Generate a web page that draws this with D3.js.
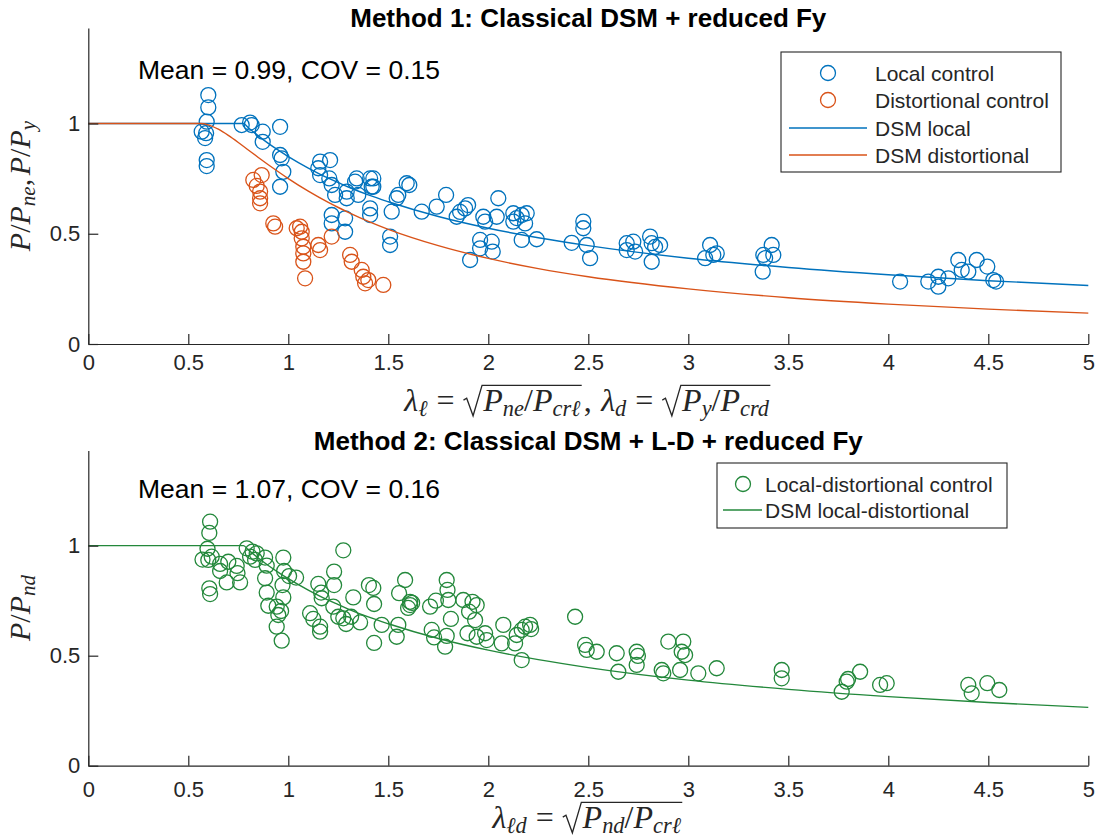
<!DOCTYPE html>
<html><head><meta charset="utf-8">
<script src="https://cdn.jsdelivr.net/npm/d3@7"></script>
<style>body{margin:0;background:#fff}</style>
</head><body>
<svg id="c" width="1097" height="839" xmlns="http://www.w3.org/2000/svg"></svg>
<script>
// ---------------- data ----------------
const xTickValues = [0,0.5,1,1.5,2,2.5,3,3.5,4,4.5,5];
const xTickLabels = ["0","0.5","1","1.5","2","2.5","3","3.5","4","4.5","5"];
const yTickValues = [0,0.5,1];
const yTickLabels = ["0","0.5","1"];

const titles = ["Method 1: Classical DSM + reduced Fy", "Method 2: Classical DSM + L-D + reduced Fy"];
const statTexts = ["Mean = 0.99, COV = 0.15", "Mean = 1.07, COV = 0.16"];
const legend1Labels = ["Local control","Distortional control","DSM local","DSM distortional"];
const legend2Labels = ["Local-distortional control","DSM local-distortional"];

// Local control tests (top panel, blue circles)
const localLambda = [0.600,0.600,0.592,0.567,0.589,0.584,0.592,0.592,0.767,0.809,
 0.817,0.872,0.872,0.959,0.959,0.967,0.975,0.959,1.159,1.209,
 1.150,1.159,1.205,1.217,1.234,1.292,1.292,1.342,1.334,1.409,
 1.417,1.350,1.217,1.217,1.284,1.284,1.409,1.409,1.425,1.425,
 1.509,1.509,1.517,1.550,1.542,1.592,1.605,1.667,1.742,1.789,
 1.842,1.859,1.884,1.899,1.909,1.959,1.959,1.975,1.984,2.017,
 2.022,2.050,2.042,2.125,2.125,2.142,2.167,2.192,2.184,2.167,
 2.242,2.417,2.475,2.475,2.492,2.509,2.692,2.692,2.725,2.734,
 2.809,2.817,2.834,2.859,2.817,3.109,3.084,3.125,3.142,3.375,
 3.417,3.425,3.384,3.372,4.059,4.200,4.250,4.250,4.300,4.350,
 4.367,4.400,4.442,4.495,4.525,4.539];
const localRatio = [1.129,1.073,1.008,0.963,0.956,0.934,0.834,0.807,0.993,1.004,
 0.993,0.963,0.917,0.985,0.857,0.842,0.781,0.713,0.827,0.834,
 0.797,0.766,0.751,0.721,0.676,0.691,0.661,0.751,0.736,0.751,
 0.713,0.676,0.585,0.547,0.570,0.509,0.615,0.585,0.751,0.713,
 0.487,0.449,0.600,0.676,0.661,0.729,0.721,0.600,0.623,0.676,
 0.577,0.599,0.615,0.630,0.381,0.472,0.434,0.577,0.555,0.464,
 0.419,0.661,0.577,0.593,0.555,0.571,0.585,0.593,0.547,0.472,
 0.475,0.459,0.555,0.525,0.449,0.389,0.457,0.426,0.464,0.419,
 0.487,0.457,0.440,0.449,0.373,0.449,0.389,0.404,0.411,0.404,
 0.449,0.404,0.389,0.328,0.283,0.283,0.305,0.260,0.298,0.381,
 0.336,0.328,0.381,0.351,0.290,0.283];

// Distortional control tests (top panel, orange circles)
const distLambda = [0.825,0.867,0.842,0.859,0.859,0.859,0.925,0.934,1.042,1.059,
 1.067,1.067,1.075,1.075,1.075,1.084,1.150,1.159,1.217,1.309,
 1.317,1.367,1.375,1.384,1.400,1.475];
const distRatio = [0.744,0.766,0.717,0.691,0.661,0.638,0.547,0.532,0.525,0.532,
 0.509,0.479,0.441,0.411,0.373,0.298,0.449,0.426,0.487,0.404,
 0.373,0.336,0.305,0.275,0.290,0.268];

// Local-distortional control tests (bottom panel, green circles)
const ldLambda = [0.609,0.605,0.596,0.571,0.600,0.617,0.605,0.609,0.659,0.659,
 0.692,0.700,0.742,0.746,0.759,0.792,0.821,0.809,0.842,0.834,
 0.884,0.892,0.884,0.892,0.900,0.942,0.950,0.942,0.967,0.975,
 0.979,1.004,1.039,0.971,0.975,0.964,1.275,1.229,1.229,1.150,
 1.164,1.167,1.109,1.125,1.159,1.159,1.225,1.250,1.275,1.289,
 1.314,1.325,1.359,1.403,1.425,1.429,1.429,1.467,1.550,1.542,
 1.584,1.554,1.609,1.609,1.619,1.599,1.709,1.738,1.792,1.796,
 1.800,1.813,1.717,1.729,1.792,1.784,1.875,1.921,1.942,1.904,
 1.934,1.896,1.942,1.984,1.992,2.075,2.067,2.134,2.142,2.167,
 2.184,2.209,2.214,2.167,2.434,2.484,2.492,2.542,2.642,2.650,
 2.742,2.742,2.748,2.900,2.975,2.967,2.984,2.867,2.875,2.959,
 3.050,3.142,3.467,3.467,3.767,3.792,3.799,3.859,3.959,3.992,
 4.400,4.417,4.495,4.555];
const ldRatio = [1.109,1.058,0.986,0.937,0.935,0.950,0.806,0.780,0.917,0.885,
 0.833,0.927,0.908,0.875,0.833,0.988,0.973,0.950,0.965,0.935,
 0.946,0.909,0.852,0.787,0.727,0.723,0.685,0.632,0.568,0.946,
 0.885,0.862,0.855,0.821,0.765,0.703,0.979,0.882,0.821,0.826,
 0.787,0.761,0.693,0.667,0.632,0.609,0.723,0.677,0.670,0.644,
 0.677,0.765,0.651,0.821,0.808,0.735,0.558,0.640,0.640,0.586,
 0.844,0.784,0.745,0.730,0.740,0.717,0.723,0.750,0.844,0.799,
 0.753,0.667,0.617,0.583,0.590,0.541,0.753,0.745,0.730,0.700,
 0.662,0.602,0.586,0.602,0.571,0.640,0.556,0.556,0.594,0.617,
 0.632,0.640,0.621,0.480,0.677,0.549,0.526,0.518,0.511,0.427,
 0.518,0.458,0.499,0.564,0.564,0.518,0.503,0.435,0.420,0.435,
 0.420,0.443,0.435,0.397,0.336,0.382,0.394,0.427,0.367,0.375,
 0.367,0.329,0.375,0.344];

// DSM design curves
const curveLocalLambda = [0,0.776,0.8,0.85,0.9,0.95,1.0,1.1,1.2,1.25,1.3,1.4,1.5,1.75,2.0,2.25,2.5,3.0,3.5,4.0,4.5,5.0];
const curveLocalRatio  = [1,1.000,0.981,0.944,0.910,0.879,0.850,0.798,0.752,0.732,0.712,0.676,0.645,0.578,0.525,0.482,0.446,0.389,0.347,0.314,0.287,0.265];
const curveDistLambda  = [0,0.561,0.6,0.65,0.7,0.75,0.8,0.85,0.9,0.95,1.0,1.1,1.2,1.25,1.3,1.4,1.5,1.75,2.0,2.25,2.5,3.0,3.5,4.0,4.5,5.0];
const curveDistRatio   = [1,1.000,0.994,0.974,0.946,0.914,0.880,0.846,0.813,0.781,0.750,0.693,0.642,0.619,0.597,0.556,0.520,0.446,0.388,0.342,0.305,0.250,0.210,0.181,0.158,0.140];

// ---------------- drawing ----------------
const BLUE = "#0072BD", ORANGE = "#D95319", GREEN = "#23883b", AX = "#262626";
const SANS = "'Liberation Sans', Arial, Helvetica, sans-serif";
const SERIF = "'Liberation Serif','DejaVu Serif',serif";
const svg = d3.select("#c");

const x = d3.scaleLinear().domain([0,5]).range([88.3,1088.3]);
const yTop = d3.scaleLinear().domain([0,1.433]).range([344,28]);
const yBot = d3.scaleLinear().domain([0,1.433]).range([765.7,450.4]);

function drawAxes(y, padX) {
  const gx = svg.append("g").attr("transform", `translate(0,${y(0)})`)
    .call(d3.axisBottom(x).tickValues(xTickValues).tickFormat((d,i)=>xTickLabels[i])
      .tickSizeInner(-10).tickSizeOuter(0).tickPadding(padX));
  const gy = svg.append("g").attr("transform", `translate(${x(0)},0)`)
    .call(d3.axisLeft(y).tickValues(yTickValues).tickFormat((d,i)=>yTickLabels[i])
      .tickSizeInner(-10).tickSizeOuter(0).tickPadding(8));
  [gx,gy].forEach(g=>{
    g.attr("font-family", SANS).attr("font-size", 22);
    g.select(".domain").attr("stroke", AX).attr("stroke-width", 1.2);
    g.selectAll(".tick line").attr("stroke", AX).attr("stroke-width", 1.2);
    g.selectAll(".tick text").attr("fill", AX);
  });
}

function drawCircles(lam, rat, y, color) {
  svg.append("g").selectAll("circle").data(lam.map((d,i)=>[d,rat[i]])).join("circle")
    .attr("cx", d=>x(d[0])).attr("cy", d=>y(d[1])).attr("r", 7.5)
    .attr("fill","none").attr("stroke", color).attr("stroke-width", 1.3);
}
function drawCurve(lam, rat, y, color) {
  const line = d3.line().x(d=>x(d[0])).y(d=>y(d[1])).curve(d3.curveMonotoneX);
  svg.append("path").attr("d", line(lam.map((d,i)=>[d,rat[i]])))
    .attr("fill","none").attr("stroke", color).attr("stroke-width", 1.4);
}

// math label layout helper
function mathText(g, tokens, fs, color) {
  let cx = 0;
  function run(toks) {
    toks.forEach(t=>{
      if (t.sqrt) {
        const x0 = cx, rw = 0.62*fs;
        cx += rw;
        run(t.sqrt);
        const xe = cx + 0.04*fs;
        g.append("path")
          .attr("d", `M${x0},${-0.34*fs} L${x0+0.1*fs},${-0.4*fs} L${x0+0.3*fs},${0.15*fs} L${x0+rw-0.04*fs},${-0.8*fs} L${xe},${-0.8*fs}`)
          .attr("fill","none").attr("stroke", color).attr("stroke-width", 1.3);
        cx = xe + 0.06*fs;
      } else {
        if (t.gl) cx += t.gl*fs;
        const el = g.append("text").attr("x", cx).attr("y", t.sub ? 0.17*fs : 0)
          .attr("font-size", t.sub ? 0.7*fs : fs)
          .attr("font-style", t.it ? "italic" : "normal")
          .attr("font-family", SERIF).attr("fill", color).text(t.s);
        cx += el.node().getComputedTextLength();
        if (t.gr) cx += t.gr*fs;
      }
    });
  }
  run(tokens);
  return cx;
}
function placeMath(tokens, tx, ty, rotate, fs) {
  const g = svg.append("g").attr("transform", `translate(${tx},${ty})` + (rotate ? " rotate(-90)" : ""));
  const inner = g.append("g");
  const w = mathText(inner, tokens, fs, AX);
  inner.attr("transform", `translate(${-w/2},0)`);
}

function legend(box, items) {
  svg.append("rect").attr("x", box.x).attr("y", box.y).attr("width", box.w).attr("height", box.h)
    .attr("fill","#fff").attr("stroke", AX).attr("stroke-width", 1.1);
  items.forEach(it=>{
    if (it.type === "marker") {
      svg.append("circle").attr("cx", box.mx).attr("cy", it.y).attr("r", 7.5)
        .attr("fill","none").attr("stroke", it.color).attr("stroke-width", 1.3);
    } else {
      svg.append("line").attr("x1", box.l1).attr("x2", box.l2).attr("y1", it.y).attr("y2", it.y)
        .attr("stroke", it.color).attr("stroke-width", 1.4);
    }
    svg.append("text").attr("x", box.tx).attr("y", it.y).attr("dy","0.36em")
      .attr("font-family", SANS).attr("font-size", 21).attr("fill", AX).text(it.label);
  });
}

// ---- top panel ----
drawCircles(localLambda, localRatio, yTop, BLUE);
drawCircles(distLambda, distRatio, yTop, ORANGE);
drawCurve(curveLocalLambda, curveLocalRatio, yTop, BLUE);
drawCurve(curveDistLambda, curveDistRatio, yTop, ORANGE);
drawAxes(yTop, 10);

svg.append("text").attr("x", 588.3).attr("y", 27).attr("text-anchor","middle")
  .attr("font-family", SANS).attr("font-weight","bold").attr("font-size", 26).attr("fill","#000").text(titles[0]);
svg.append("text").attr("x", 138).attr("y", 79)
  .attr("font-family", SANS).attr("font-size", 26.5).attr("fill","#000").text(statTexts[0]);

legend({x:781, y:52, w:280, h:120, mx:828, l1:789, l2:867, tx:875}, [
  {type:"marker", color:BLUE, y:73, label:legend1Labels[0]},
  {type:"marker", color:ORANGE, y:100, label:legend1Labels[1]},
  {type:"line", color:BLUE, y:128, label:legend1Labels[2]},
  {type:"line", color:ORANGE, y:155, label:legend1Labels[3]}
]);

placeMath([{s:"λ",it:1},{s:"ℓ",it:1,sub:1},{s:"=",gl:.28,gr:.28},
  {sqrt:[{s:"P",it:1},{s:"ne",it:1,sub:1},{s:"/"},{s:"P",it:1},{s:"crℓ",it:1,sub:1}]},
  {s:",",gr:.3},{s:"λ",it:1},{s:"d",it:1,sub:1},{s:"=",gl:.28,gr:.28},
  {sqrt:[{s:"P",it:1},{s:"y",it:1,sub:1},{s:"/"},{s:"P",it:1},{s:"crd",it:1,sub:1}]}],
  588.3, 411, false, 32);
placeMath([{s:"P",it:1},{s:"/"},{s:"P",it:1},{s:"ne",it:1,sub:1},{s:",",gr:.12},
  {s:"P",it:1},{s:"/"},{s:"P",it:1},{s:"y",it:1,sub:1}], 30, 186, true, 30);

// ---- bottom panel ----
drawCircles(ldLambda, ldRatio, yBot, GREEN);
drawCurve(curveLocalLambda, curveLocalRatio, yBot, GREEN);
drawAxes(yBot, 16);

svg.append("text").attr("x", 588.3).attr("y", 450).attr("text-anchor","middle")
  .attr("font-family", SANS).attr("font-weight","bold").attr("font-size", 26).attr("fill","#000").text(titles[1]);
svg.append("text").attr("x", 138).attr("y", 498)
  .attr("font-family", SANS).attr("font-size", 26.5).attr("fill","#000").text(statTexts[1]);

legend({x:717, y:463, w:290, h:65, mx:743, l1:723, l2:762, tx:765}, [
  {type:"marker", color:GREEN, y:484, label:legend2Labels[0]},
  {type:"line", color:GREEN, y:510, label:legend2Labels[1]}
]);

placeMath([{s:"λ",it:1},{s:"ℓd",it:1,sub:1},{s:"=",gl:.28,gr:.28},
  {sqrt:[{s:"P",it:1},{s:"nd",it:1,sub:1},{s:"/"},{s:"P",it:1},{s:"crℓ",it:1,sub:1}]}],
  588.3, 828, false, 32);
placeMath([{s:"P",it:1},{s:"/"},{s:"P",it:1},{s:"nd",it:1,sub:1}], 30, 608, true, 30);
</script>
</body></html>
